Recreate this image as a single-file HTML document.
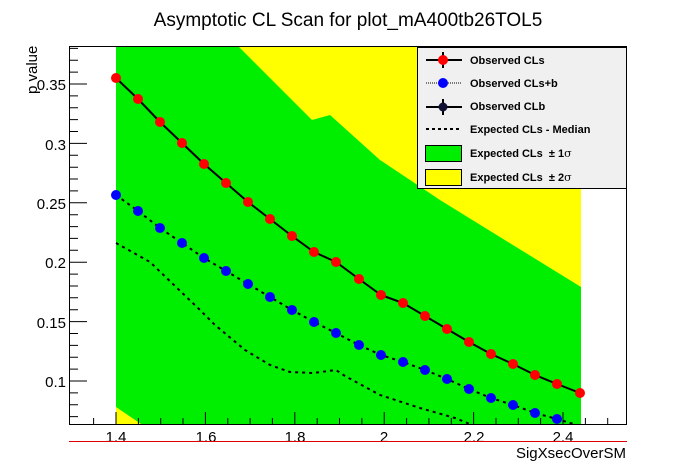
<!DOCTYPE html>
<html><head><meta charset="utf-8"><style>body{margin:0;background:#fff}svg{display:block}text{font-family:"Liberation Sans",sans-serif}</style></head><body>
<svg width="696" height="472" viewBox="0 0 696 472" xmlns="http://www.w3.org/2000/svg">
<defs><clipPath id="c"><rect x="70" y="46" width="556" height="378"/></clipPath></defs>
<rect width="696" height="472" fill="#fff"/>
<text x="348" y="26" font-size="19" text-anchor="middle">Asymptotic CL Scan for plot_mA400tb26TOL5</text>
<g clip-path="url(#c)">
<rect x="116" y="40" width="465" height="390" fill="#ffff00"/>
<polygon points="116,40 232,40 312,120 330,115 380,160 440,200 581,287 581,430 150,430 116,407" fill="#00ee00"/>
<polyline fill="none" stroke="#000" stroke-width="2" stroke-dasharray="3,4" points="116,243 150,262 200,310 215,325 245,350 270,365 290,372 313,373 336,370 345,376 380,395 420,408 455,418 480,428"/>
<polyline fill="none" stroke="#000" stroke-width="2" stroke-dasharray="3,4" points="116,195 138,211 160,228 182,243 204,258 226,271 248,284 270,297 292,310 314,322 336,333 359,345 381,355 403,362 425,370 447,379 469,389 491,398 513,405 535,413 557,419 580,426"/>
<polyline fill="none" stroke="#000" stroke-width="2" points="116,78 138,99 160,122 182,143 204,164 226,183 248,202 270,219 292,236 314,252 336,262 359,279 381,295 403,303 425,316 447,329 469,342 491,354 513,364 535,375 557,384 580,393"/>
<g fill="#0000ff">
<circle cx="116" cy="195" r="5"/><circle cx="138" cy="211" r="5"/><circle cx="160" cy="228" r="5"/><circle cx="182" cy="243" r="5"/><circle cx="204" cy="258" r="5"/><circle cx="226" cy="271" r="5"/><circle cx="248" cy="284" r="5"/><circle cx="270" cy="297" r="5"/><circle cx="292" cy="310" r="5"/><circle cx="314" cy="322" r="5"/><circle cx="336" cy="333" r="5"/><circle cx="359" cy="345" r="5"/><circle cx="381" cy="355" r="5"/><circle cx="403" cy="362" r="5"/><circle cx="425" cy="370" r="5"/><circle cx="447" cy="379" r="5"/><circle cx="469" cy="389" r="5"/><circle cx="491" cy="398" r="5"/><circle cx="513" cy="405" r="5"/><circle cx="535" cy="413" r="5"/><circle cx="557" cy="419" r="5"/></g>
<g fill="#ff0000">
<circle cx="116" cy="78" r="5"/><circle cx="138" cy="99" r="5"/><circle cx="160" cy="122" r="5"/><circle cx="182" cy="143" r="5"/><circle cx="204" cy="164" r="5"/><circle cx="226" cy="183" r="5"/><circle cx="248" cy="202" r="5"/><circle cx="270" cy="219" r="5"/><circle cx="292" cy="236" r="5"/><circle cx="314" cy="252" r="5"/><circle cx="336" cy="262" r="5"/><circle cx="359" cy="279" r="5"/><circle cx="381" cy="295" r="5"/><circle cx="403" cy="303" r="5"/><circle cx="425" cy="316" r="5"/><circle cx="447" cy="329" r="5"/><circle cx="469" cy="342" r="5"/><circle cx="491" cy="354" r="5"/><circle cx="513" cy="364" r="5"/><circle cx="535" cy="375" r="5"/><circle cx="557" cy="384" r="5"/><circle cx="580" cy="393" r="5"/></g>
</g>
<rect x="69.5" y="46.5" width="557" height="378" fill="none" stroke="#000" stroke-width="1"/>
<g stroke="#000" stroke-width="1" id="yt"></g>
<g font-size="15" text-anchor="end">
<text x="66" y="90">0.35</text><text x="66" y="150">0.3</text><text x="66" y="209">0.25</text><text x="66" y="268">0.2</text><text x="66" y="328">0.15</text><text x="66" y="387">0.1</text>
</g>
<g font-size="15" text-anchor="middle">
<text x="116" y="442">1.4</text><text x="206" y="442">1.6</text><text x="295" y="442">1.8</text><text x="384" y="442">2</text><text x="474" y="442">2.2</text><text x="563" y="442">2.4</text>
</g>
<text x="626" y="458" font-size="15" text-anchor="end">SigXsecOverSM</text>
<text transform="translate(37,94) rotate(-90)" font-size="15">p value</text>
<line x1="69" y1="441.5" x2="627" y2="441.5" stroke="#dd0000"/>
<g stroke="#000" id="ticks">
<path d="M70 381h17M70 321.6h17M70 262.2h17M70 202.8h17M70 143.4h17M70 84h17"/>
<path d="M70 416.6h8M70 404.8h8M70 392.9h8M70 369.1h8M70 357.2h8M70 345.4h8M70 333.5h8M70 309.7h8M70 297.8h8M70 286h8M70 274.1h8M70 250.3h8M70 238.4h8M70 226.6h8M70 214.7h8M70 190.9h8M70 179h8M70 167.2h8M70 155.3h8M70 131.5h8M70 119.6h8M70 107.8h8M70 95.9h8M70 72.1h8M70 60.2h8M70 48.4h8"/>
<path d="M116 424v-12M205.4 424v-12M294.8 424v-12M384.2 424v-12M473.6 424v-12M563 424v-12"/>
<path d="M93.6 424v-6M138.4 424v-6M160.7 424v-6M183 424v-6M227.8 424v-6M250.1 424v-6M272.4 424v-6M317.2 424v-6M339.5 424v-6M361.9 424v-6M406.6 424v-6M428.9 424v-6M451.3 424v-6M496 424v-6M518.3 424v-6M540.6 424v-6M585.4 424v-6M607.7 424v-6"/>
</g>
<rect x="417.5" y="47.5" width="209" height="141" fill="#f0f0f0" stroke="#000"/>
<g font-size="11" font-weight="bold">
<text x="470" y="64">Observed CLs</text>
<text x="470" y="87">Observed CLs+b</text>
<text x="470" y="110">Observed CLb</text>
<text x="470" y="133">Expected CLs - Median</text>
<text x="470" y="157">Expected CLs &#160;± 1<tspan font-weight="normal" font-family="DejaVu Serif,serif">σ</tspan></text>
<text x="470" y="181">Expected CLs &#160;± 2<tspan font-weight="normal" font-family="DejaVu Serif,serif">σ</tspan></text>
</g>
<line x1="426" y1="60" x2="462" y2="60" stroke="#000" stroke-width="2"/><line x1="443" y1="52" x2="443" y2="68" stroke="#000" stroke-width="2"/><circle cx="443" cy="60" r="5" fill="#f00"/>
<line x1="426" y1="83" x2="462" y2="83" stroke="#000" stroke-dasharray="1,1"/><circle cx="443" cy="83" r="5" fill="#00f"/>
<line x1="426" y1="107" x2="462" y2="107" stroke="#000" stroke-width="2"/><line x1="443" y1="99" x2="443" y2="115" stroke="#000" stroke-width="2"/><circle cx="443" cy="107" r="4.5" fill="#113"/>
<line x1="426" y1="129" x2="462" y2="129" stroke="#000" stroke-width="2" stroke-dasharray="3,3"/>
<rect x="425.5" y="145.5" width="36" height="16" fill="#00ee00" stroke="#000"/>
<rect x="425.5" y="169.5" width="36" height="16" fill="#ffff00" stroke="#000"/>
</svg>
</body></html>
